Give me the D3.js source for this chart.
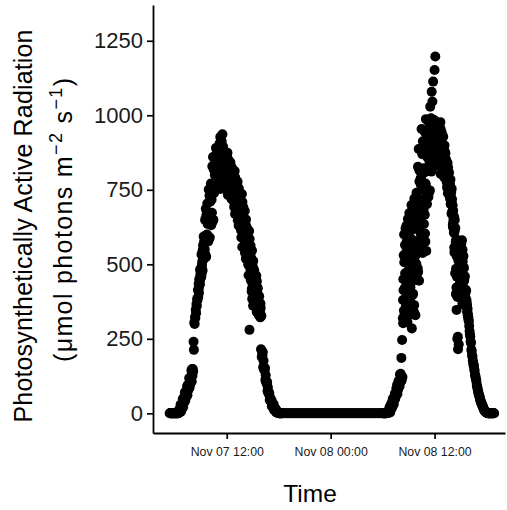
<!DOCTYPE html>
<html>
<head>
<meta charset="utf-8">
<script src="https://cdn.jsdelivr.net/npm/d3@7"></script>
<style>
  body { margin: 0; background: #fff; }
  svg { display: block; font-family: "Liberation Sans", Arial, Helvetica, sans-serif; }
</style>
</head>
<body>
<div id="chart"></div>
<script>
// PAR readings (umol photons m-2 s-1), logger every 2.5 min during the day
const day1Start = "2019-11-07T05:25:00";
const day1Par = [
  0,0, 0,0, 0,0, 0,0, 0,0, 0,0, 0,0, 0,0, 0,0, 0,0, 0,0, 0,0,
  8,0, 12,5, 14,10, 29,5, 29,13, 31,26, 47,20, 51,34,
  50,45, 71,42, 71,53, 74,68, 91,61, 95,77, 95,89, 118,86, 117,98, 122,115,
  144,107, 149,126, 149,140, 240,213, 305,300, 323,320, 347,336, 367,360, 384,380, 414,390,
  434,404, 448,431, 482,462, 484,457, 533,490, 539,479, 549,529, 593,519, 576,550, 649,594,
  686,525, 655,581, 704,635, 661,577, 751,640, 730,590, 710,665, 771,631, 717,673, 829,742,
  860,649, 818,739, 860,800, 822,753, 890,798, 864,754, 850,818, 884,781, 837,805, 905,843,
  927,753, 878,803, 913,849, 936,786, 894,813, 863,769, 841,815, 862,779, 816,790, 865,814,
  874,733, 825,764, 846,794, 798,737, 842,766, 813,719, 789,762, 807,719, 757,730, 807,753,
  813,669, 762,699, 782,727, 730,665, 777,690, 740,630, 711,679, 734,625, 672,638, 733,666,
  736,558, 673,596, 691,627, 629,554, 679,585, 635,519, 602,570, 621,517, 555,522, 608,540,
  612,280, 543,464, 562,491, 491,409, 546,437, 493,361, 456,419, 480,386, 438,417, 464,422,
  461,340, 411,359, 420,378, 373,329, 393,354, 363,322, 353,215, 327,189, 204,194, 206,155,
  176,148, 151,143, 152,112, 128,105, 105,98, 105,75, 87,70, 69,64, 68,45, 54,42,
  43,39, 45,24, 36,23, 27,22, 30,11, 21,11, 13,10, 14,3, 9,4, 5,4,
  4,0, 1,0, 0,0, 0,0, 0,0, 0,0
];

// second channel, offset 1.25 min, late morning to afternoon
const day1ExtraStart = "2019-11-07T08:46:15";
const day1ParExtra = [
  418,430, 451,435, 449,470, 487,460, 469,501, 511,547, 564,522, 528,575, 590,532, 533,593,
  597,662, 668,600, 593,665, 669,587, 585,668, 665,749, 744,648, 647,737, 741,642, 643,740,
  744,828, 833,759, 762,826, 829,761, 753,822, 813,878, 873,806, 793,859, 854,783, 773,842,
  831,901, 892,822, 809,877, 862,793, 774,834, 819,876, 860,805, 788,842, 829,773, 756,812,
  796,853, 836,780, 761,816, 803,744, 729,785, 769,826, 809,753, 729,785, 772,711, 692,752,
  734,791, 774,715, 693,751, 736,672, 648,712, 689,755, 735,667, 638,707, 690,614, 590,664,
  638,709, 687,616, 587,655, 636,563, 539,609, 581,650, 625,558, 529,596, 572,499, 463,539,
  512,585, 558,484, 447,522, 499,418, 384,465, 432,511, 483,406, 396,457, 449,402, 374,420,
  394,443, 421,373, 352,396, 377,334, 335,364, 344,368
];

// night, every 10 min
const nightStart = "2019-11-07T18:30:00";
const nightPar = [
  0,0,0,0,0,0,0,0,0,0,0,0,0,0,0,0,0,0,0,0,0,0,0,
  0,0,0,0,0,0,0,0,0,0,0,0,0,0,0,0,0,0,0,0,0,0,0,
  0,0,0,0,0,0,0,0,0,0,0,0,0,0,0,0,0,0,0,0,0,0,0
];

const day2Start = "2019-11-08T06:00:00";
const day2Par = [
  0,0, 0,0, 0,0, 0,0, 0,0,
  1,0, 2,1, 5,1, 6,4, 15,9,
  23,3, 22,12, 33,24, 32,20, 48,34, 50,31, 55,49, 66,49, 65,59, 83,72,
  95,65, 93,80, 108,95, 107,91, 130,109, 133,107, 186,112, 246,122, 319,302, 413,345,
  507,380, 565,310, 608,450, 629,520, 560,305, 652,420, 480,350, 672,590, 497,423, 653,505,
  699,285, 582,397, 668,503, 540,340, 721,460, 656,329, 625,534, 740,457, 632,545, 827,661,
  887,445, 778,583, 888,714, 766,556, 954,683, 869,538, 813,719, 894,601, 759,666, 942,771,
  987,545, 864,702, 949,819, 856,726, 977,818, 920,748, 1029,853, 990,811, 1079,851, 1046,900,
  1113,955, 985,869, 1152,910, 1197,925, 978,892, 949,844, 928,898, 955,858, 903,872, 966,902,
  977,803, 918,843, 941,878, 883,814, 928,844, 886,791, 858,832, 873,790, 815,792, 843,803,
  840,738, 799,756, 808,770, 764,720, 784,729, 743,670, 701,677, 698,625, 641,620, 660,540,
  649,470, 557,400, 583,347, 458,250, 581,215, 512,232, 520,478, 556,425, 487,445, 569,489,
  581,367, 509,419, 528,457, 445,380, 460,400, 407,359, 374,367, 355,339, 329,325, 315,309,
  293,276, 265,258, 241,236, 214,208, 195,190, 177,170, 161,160, 148,143, 129,127, 118,114,
  106,95, 89,85, 77,73, 65,62, 58,55, 47,44, 39,38, 33,31, 26,25, 21,20,
  14,12, 10,9, 8,6, 4,3, 3,1, 1,0, 0,0, 0,0, 0,0, 0,0,
  0,0, 0,0, 0,0, 0,0, 0,0
];

const day2ExtraStart = "2019-11-08T08:21:15";
const day2ParExtra = [
  380,450, 530,600, 330,420, 470,620, 360,540, 400,580, 620,470, 340,550, 600,400, 520,330,
  535,373, 338,501, 471,637, 617,444, 401,575, 559,363, 332,527, 505,700, 691,501, 490,670,
  677,486, 474,657, 644,821, 814,633, 606,789, 786,581, 549,752, 716,913, 882,685, 635,822,
  808,603, 576,766, 744,921, 894,743, 738,875, 868,741, 740,858, 840,943, 932,836, 827,912,
  909,825, 822,898, 891,959, 950,886, 873,934, 927,863, 851,914, 901,963, 950,887, 869,931,
  919,851, 831,901, 881,951, 932,862, 839,905, 890,822, 803,866, 842,899, 877,822, 800,852,
  828,776, 758,802, 784,825, 808,767, 747,786, 768,725, 702,743, 709,753, 718,668, 633,680,
  651,606, 556,610, 551,622, 575,485, 422,527, 472,390, 257,419, 397,546, 550,463, 440,524,
  509,417, 399,487, 463,549, 525,442, 413,488, 451,387, 370,415, 385,413, 379,364, 341,351,
  331,322
];

const yTicks = [0, 250, 500, 750, 1000, 1250];
const xTicks = ["2019-11-07T12:00:00", "2019-11-08T00:00:00", "2019-11-08T12:00:00"];

function toPoints(start, stepMin, values) {
  const t0 = new Date(start).getTime();
  return values.map((v, i) => ({ t: new Date(t0 + i * stepMin * 60000), v: v }));
}

const points = [
  ...toPoints(day1Start, 2.5, day1Par),
  ...toPoints(day1ExtraStart, 2.5, day1ParExtra),
  ...toPoints(nightStart, 10, nightPar),
  ...toPoints(day2Start, 2.5, day2Par),
  ...toPoints(day2ExtraStart, 2.5, day2ParExtra)
];

const W = 507, H = 510;
const margin = { top: 5, right: 2, bottom: 77, left: 153 };
const width = W - margin.left - margin.right;
const height = H - margin.top - margin.bottom;

const svg = d3.select('#chart')
  .append('svg')
  .attr('width', W)
  .attr('height', H);

const g = svg.append('g')
  .attr('transform', `translate(${margin.left},${margin.top})`);

const x = d3.scaleTime()
  .domain([new Date("2019-11-07T03:29:00"), new Date("2019-11-08T20:08:00")])
  .range([0, width]);

const y = d3.scaleLinear()
  .domain([-66, 1370])
  .range([height, 0]);

// points
g.append('g')
  .selectAll('circle')
  .data(points)
  .join('circle')
  .attr('cx', d => x(d.t))
  .attr('cy', d => y(d.v))
  .attr('r', 5)
  .attr('fill', '#000');

// y axis
const yAxis = g.append('g')
  .call(d3.axisLeft(y).tickValues(yTicks).tickFormat(d3.format('d'))
    .tickSize(6).tickSizeOuter(0).tickPadding(4));
yAxis.select('.domain').attr('stroke', '#000').attr('stroke-width', 1.8);
yAxis.selectAll('.tick line').attr('stroke', '#000').attr('stroke-width', 1.7);
yAxis.selectAll('.tick text')
  .style('font-size', '22px')
  .style('font-family', '"Liberation Sans", Arial, sans-serif')
  .attr('fill', '#1a1a1a');

// x axis
const xAxis = g.append('g')
  .attr('transform', `translate(0,${height})`)
  .call(d3.axisBottom(x)
    .tickValues(xTicks.map(s => new Date(s)))
    .tickFormat(d3.timeFormat('%b %d %H:%M'))
    .tickSize(6).tickSizeOuter(0).tickPadding(8));
xAxis.select('.domain').attr('stroke', '#000').attr('stroke-width', 1.8);
xAxis.selectAll('.tick line').attr('stroke', '#000').attr('stroke-width', 1.7);
xAxis.selectAll('.tick text')
  .style('font-size', '12.3px')
  .style('font-family', '"Liberation Sans", Arial, sans-serif')
  .attr('fill', '#1a1a1a');

// titles
svg.append('text')
  .attr('x', 310)
  .attr('y', 502)
  .attr('text-anchor', 'middle')
  .style('font-size', '24.5px')
  .attr('fill', '#000')
  .text('Time');

svg.append('text')
  .attr('transform', 'translate(32,226) rotate(-90)')
  .attr('text-anchor', 'middle')
  .attr('textLength', 393)
  .attr('lengthAdjust', 'spacing')
  .style('font-size', '25px')
  .attr('fill', '#000')
  .text('Photosynthetically Active Radiation');

const sub = svg.append('text')
  .attr('transform', 'translate(72,220) rotate(-90)')
  .attr('text-anchor', 'middle')
  .attr('textLength', 284)
  .attr('lengthAdjust', 'spacing')
  .style('font-size', '25px')
  .attr('fill', '#000');
sub.append('tspan').text('(\u03bcmol photons m');
sub.append('tspan').attr('dy', -10).style('font-size', '18px').text('\u22122');
sub.append('tspan').attr('dy', 10).text(' s');
sub.append('tspan').attr('dy', -10).style('font-size', '18px').text('\u22121');
sub.append('tspan').attr('dy', 10).text(')');
</script>
</body>
</html>
